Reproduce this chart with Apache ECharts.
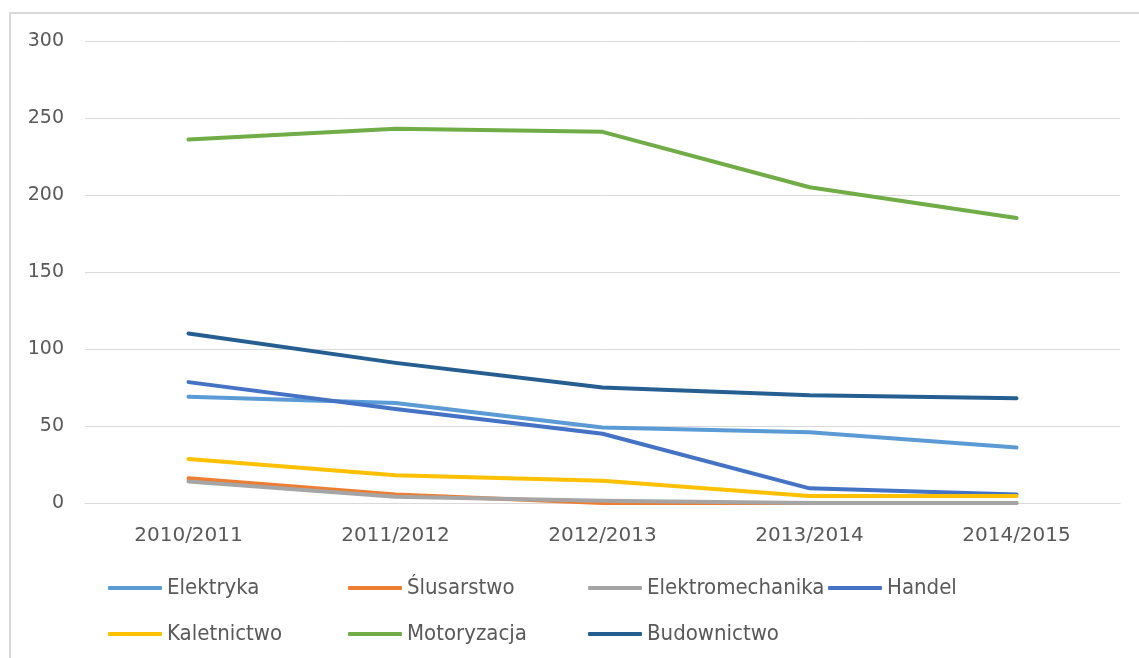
<!DOCTYPE html>
<html>
<head>
<meta charset="utf-8">
<script src="https://cdn.jsdelivr.net/npm/echarts@6/dist/echarts.min.js"></script>
<style>
   html, body {
      margin: 0;
      padding: 0;
      background: #fff;
      overflow: hidden;
   }
   .frame {
      position: absolute;
      left: 9px;
      top: 12px;
      width: 1140px;
      height: 660px;
      border-left: 2px solid #d9d9d9;
      border-top: 2px solid #d9d9d9;
   }
   #chart {
      position: absolute;
      left: 0;
      top: 0;
      width: 1139px;
      height: 658px;
   }
</style>
</head>
<body>
<div class="frame"></div>
<div id="chart"></div>
<script>
// lata szkolne
const years = ['2010/2011', '2011/2012', '2012/2013', '2013/2014', '2014/2015']

// liczba uczniow wg zawodu
const elektryka = [69, 65, 49, 46, 36]
const slusarstwo = [16, 5.5, 0, 0, 0]
const elektromechanika = [14, 4, 1.5, 0, 0]
const handel = [78.5, 61, 45, 9.5, 5.5]
const kaletnictwo = [28.5, 18, 14.5, 4.5, 4.5]
const motoryzacja = [236, 243, 241, 205, 185]
const budownictwo = [110, 91, 75, 70, 68]

const names = ['Elektryka', 'Ślusarstwo', 'Elektromechanika', 'Handel', 'Kaletnictwo', 'Motoryzacja', 'Budownictwo']
const values = [elektryka, slusarstwo, elektromechanika, handel, kaletnictwo, motoryzacja, budownictwo]
const colors = ['#5B9BD5', '#ED7D31', '#A5A5A5', '#4472C4', '#FFC000', '#70AD47', '#255E91']

// pozycje legendy (kolumny po 240px, dwa wiersze)
const legendLeft = [108, 348, 588, 828, 108, 348, 588]
const legendTop = [577, 577, 577, 577, 623, 623, 623]

let myChart = echarts.init(document.getElementById('chart'))

let legends = names.map((n, i) => ({
   data: [n],
   left: legendLeft[i],
   top: legendTop[i],
   padding: 0,
   icon: 'roundRect',
   itemWidth: 54,
   itemHeight: 4,
   textStyle: {
      fontFamily: '"DejaVu Sans Condensed", "Liberation Sans", sans-serif',
      fontSize: 22,
      color: '#595959'
   }
}))

let option = {
   animation: false,
   color: colors,
   legend: legends,
   grid: {
      left: 85,
      right: 19,
      top: 41,
      bottom: 155
   },
   xAxis: {
      type: 'category',
      data: years,
      axisLine: {
         lineStyle: { color: '#d9d9d9', width: 1 }
      },
      axisTick: { show: false },
      axisLabel: {
         margin: 23,
         color: '#595959',
         fontFamily: 'DejaVu Sans',
         fontSize: 20
      }
   },
   yAxis: {
      type: 'value',
      min: 0,
      max: 300,
      interval: 50,
      axisLine: { show: false },
      axisTick: { show: false },
      splitLine: {
         lineStyle: { color: '#d9d9d9', width: 1 }
      },
      axisLabel: {
         margin: 21,
         color: '#595959',
         fontFamily: 'DejaVu Sans',
         fontSize: 19
      }
   },
   series: names.map((n, i) => ({
      name: n,
      type: 'line',
      data: values[i],
      symbol: 'none',
      lineStyle: { width: 4, color: colors[i], cap: 'round', join: 'round' }
   }))
}

myChart.setOption(option)
</script>
</body>
</html>
